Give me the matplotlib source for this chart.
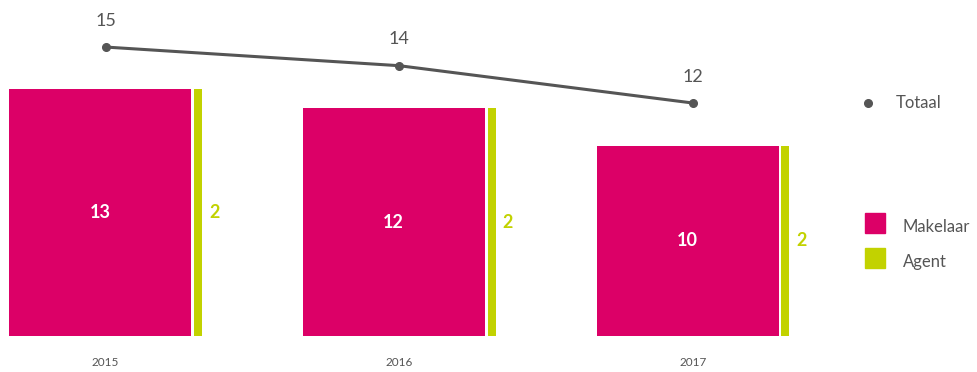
import matplotlib.pyplot as plt
from matplotlib.patches import Rectangle
from matplotlib.lines import Line2D
import numpy as np

plt.rcParams['font.family'] = ['Lato', 'DejaVu Sans']

# Data
years = ['2015', '2016', '2017']
makelaar = [13, 12, 10]
agent = [2, 2, 2]
totaal = [15, 14, 12]

MAGENTA = '#DC0067'
GREEN = '#C2D200'
GREY = '#555555'

W, H = 978, 372
fig = plt.figure(figsize=(W / 100, H / 100), dpi=100)

# axes spans full width, bottom at baseline of bars
ax = fig.add_axes([0, 36 / H, 1, 336 / H])
ax.set_xlim(-105.5 / 293.75, (W - 105.5) / 293.75)
ax.set_ylim(0, 336 / 19)
ax.axis('off')

x = np.arange(len(years))
px = 1 / 293.75  # one pixel in x data units
mk_w = 182 * px
ag_w = 8 * px
mk_x = x - 5.5 * px
ag_x = x + 92.5 * px

ax.bar(mk_x, makelaar, width=mk_w, color=MAGENTA)
# the agent strip is drawn at the makelaar height, as in the original
ax.bar(ag_x, makelaar, width=ag_w, color=GREEN)

for xi, m in zip(mk_x, makelaar):
    ax.text(xi, m / 2, str(m), color='white', fontsize=13, fontweight='bold',
            ha='center', va='center')
for xi, m, a in zip(ag_x, makelaar, agent):
    ax.text(xi + 11 * px, m / 2, str(a), color=GREEN, fontsize=13, fontweight='bold',
            ha='left', va='center')

for xi, yr in zip(x, years):
    ax.text(xi, -27 / 19, yr, color=GREY, fontsize=8.5, ha='center', va='center',
            clip_on=False)

# Totaal line on its own scale
ax2 = ax.twinx()
ax2.set_ylim(-0.48, 17.52)
ax2.axis('off')
ax2.plot(x, totaal, color=GREY, lw=2.2, marker='o', markersize=5.5)
for xi, t in zip(x, totaal):
    ax2.annotate(str(t), (xi, t), xytext=(0, 19), textcoords='offset points',
                 color=GREY, fontsize=13, ha='center', va='center')

# Legend
def fx(p):
    return p / W


def fy(p):
    return 1 - p / H


fig.add_artist(Line2D([fx(868)], [fy(103)], marker='o', markersize=5.5,
                      color=GREY, transform=fig.transFigure))
fig.text(fx(896), fy(103), 'Totaal', color=GREY, fontsize=12, va='center', ha='left')
fig.add_artist(Rectangle((fx(865), fy(233)), fx(20), 20 / H, color=MAGENTA,
                         transform=fig.transFigure))
fig.text(fx(903), fy(227), 'Makelaar', color=GREY, fontsize=12, va='center', ha='left')
fig.add_artist(Rectangle((fx(865), fy(268)), fx(20), 20 / H, color=GREEN,
                         transform=fig.transFigure))
fig.text(fx(903), fy(262), 'Agent', color=GREY, fontsize=12, va='center', ha='left')

fig.savefig('out.png', dpi=100, facecolor='white')
